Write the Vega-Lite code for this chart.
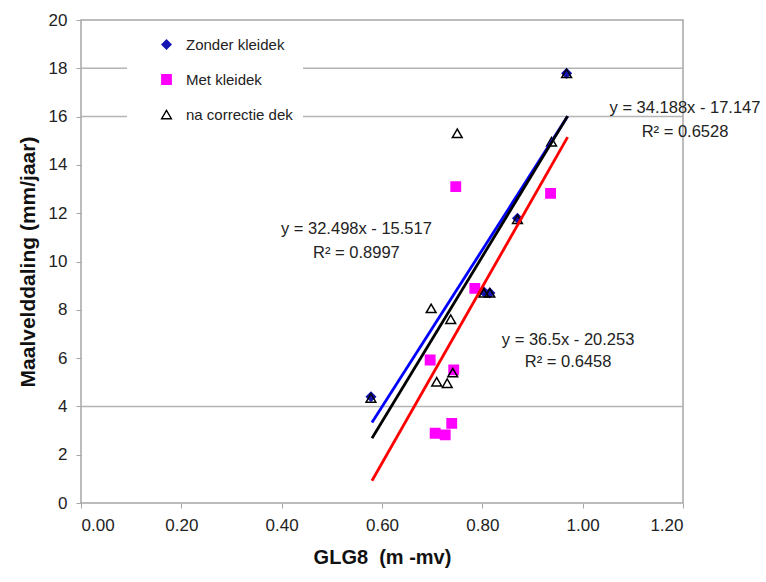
{
  "$schema": "https://vega.github.io/schema/vega-lite/v6.json",
  "width": 602,
  "height": 483,
  "autosize": "none",
  "padding": {"left": 81, "top": 20, "right": 83, "bottom": 79},
  "background": "white",
  "config": {
    "font": "Liberation Sans",
    "view": {"stroke": "#a6a6a6", "strokeWidth": 1.5},
    "axis": {
      "grid": false,
      "domain": false,
      "ticks": true,
      "tickColor": "#a6a6a6",
      "tickSize": 5,
      "labelFontSize": 17,
      "labelColor": "#222222",
      "titleFontSize": 20,
      "titleFontWeight": "bold",
      "titleColor": "#111111"
    },
    "axisX": {"labelPadding": 9, "titlePadding": 14},
    "axisY": {"labelPadding": 9, "titlePadding": 10, "titleFontSize": 21},
    "legend": {
      "orient": "none",
      "legendX": 46,
      "legendY": 7,
      "padding": 10,
      "fillColor": "white",
      "labelFontSize": 15,
      "labelColor": "#222222",
      "rowPadding": 19,
      "symbolOffset": 22,
      "labelOffset": 12,
      "symbolStrokeWidth": 1.4
    }
  },
  "datasets": {
    "grid": [{"y": 4}, {"y": 16}, {"y": 18}],
    "points": [
      {"series": "Met kleidek", "x": 0.747, "y": 13.10},
      {"series": "Met kleidek", "x": 0.936, "y": 12.82},
      {"series": "Met kleidek", "x": 0.785, "y": 8.89},
      {"series": "Met kleidek", "x": 0.696, "y": 5.92},
      {"series": "Met kleidek", "x": 0.743, "y": 5.51},
      {"series": "Met kleidek", "x": 0.706, "y": 2.89},
      {"series": "Met kleidek", "x": 0.726, "y": 2.82},
      {"series": "Met kleidek", "x": 0.739, "y": 3.30},
      {"series": "Zonder kleidek", "x": 0.578, "y": 4.40},
      {"series": "Zonder kleidek", "x": 0.803, "y": 8.75},
      {"series": "Zonder kleidek", "x": 0.815, "y": 8.70},
      {"series": "Zonder kleidek", "x": 0.870, "y": 11.79},
      {"series": "Zonder kleidek", "x": 0.968, "y": 17.79},
      {"series": "na correctie dek", "x": 0.578, "y": 4.35},
      {"series": "na correctie dek", "x": 0.803, "y": 8.70},
      {"series": "na correctie dek", "x": 0.815, "y": 8.70},
      {"series": "na correctie dek", "x": 0.870, "y": 11.75},
      {"series": "na correctie dek", "x": 0.968, "y": 17.79},
      {"series": "na correctie dek", "x": 0.750, "y": 15.31},
      {"series": "na correctie dek", "x": 0.938, "y": 14.96},
      {"series": "na correctie dek", "x": 0.698, "y": 8.06},
      {"series": "na correctie dek", "x": 0.737, "y": 7.61},
      {"series": "na correctie dek", "x": 0.741, "y": 5.40},
      {"series": "na correctie dek", "x": 0.709, "y": 5.02},
      {"series": "na correctie dek", "x": 0.730, "y": 4.96}
    ],
    "trends": [
      {"trend": "Zonder kleidek", "x": 0.58, "y": 3.33},
      {"trend": "Zonder kleidek", "x": 0.97, "y": 16.01},
      {"trend": "na correctie dek", "x": 0.58, "y": 2.68},
      {"trend": "na correctie dek", "x": 0.97, "y": 16.02},
      {"trend": "Met kleidek", "x": 0.58, "y": 0.92},
      {"trend": "Met kleidek", "x": 0.97, "y": 15.15}
    ],
    "labels": [
      {"x": 0.549, "y": 11.35, "text": "y = 32.498x - 15.517"},
      {"x": 0.549, "y": 10.35, "text": "R² = 0.8997"},
      {"x": 1.204, "y": 16.36, "text": "y = 34.188x - 17.147"},
      {"x": 1.204, "y": 15.36, "text": "R² = 0.6528"},
      {"x": 0.971, "y": 6.75, "text": "y = 36.5x - 20.253"},
      {"x": 0.971, "y": 5.84, "text": "R² = 0.6458"}
    ]
  },
  "layer": [
    {
      "data": {"name": "grid"},
      "mark": {"type": "rule", "color": "#b4b4b4", "strokeWidth": 1.5},
      "encoding": {
        "y": {"field": "y", "type": "quantitative", "scale": {"domain": [0, 20], "nice": false}}
      }
    },
    {
      "data": {"name": "points"},
      "mark": {"type": "point", "filled": true, "strokeWidth": 1.5, "opacity": 1},
      "encoding": {
        "x": {
          "field": "x", "type": "quantitative",
          "scale": {"domain": [0, 1.2], "nice": false, "zero": false},
          "axis": {"values": [0, 0.2, 0.4, 0.6, 0.8, 1.0, 1.2], "format": ".2f"},
          "title": "GLG8\u00a0\u00a0(m -mv)"
        },
        "y": {
          "field": "y", "type": "quantitative",
          "scale": {"domain": [0, 20], "nice": false},
          "axis": {"values": [0, 2, 4, 6, 8, 10, 12, 14, 16, 18, 20]},
          "title": "Maalvelddaling (mm/jaar)"
        },
        "shape": {
          "field": "series", "type": "nominal",
          "scale": {"domain": ["Zonder kleidek", "Met kleidek", "na correctie dek"], "range": ["diamond", "square", "triangle-up"]},
          "legend": {"title": null, "encode": {"symbols": {"update": {"size": {"value": 70}}}}}
        },
        "fill": {
          "field": "series", "type": "nominal",
          "scale": {"domain": ["Zonder kleidek", "Met kleidek", "na correctie dek"], "range": ["#1414b4", "#ff00ff", "transparent"]},
          "legend": {"title": null, "encode": {"symbols": {"update": {"size": {"value": 70}}}}}
        },
        "stroke": {
          "field": "series", "type": "nominal",
          "scale": {"domain": ["Zonder kleidek", "Met kleidek", "na correctie dek"], "range": ["#1414b4", "#ff00ff", "#000000"]},
          "legend": {"title": null, "encode": {"symbols": {"update": {"size": {"value": 70}}}}}
        },
        "size": {
          "field": "series", "type": "nominal",
          "scale": {"domain": ["Zonder kleidek", "Met kleidek", "na correctie dek"], "range": [80, 95, 320]},
          "legend": {"title": null, "encode": {"symbols": {"update": {"size": {"value": 70}}}}}
        }
      }
    },
    {
      "data": {"name": "trends"},
      "mark": {"type": "line", "strokeWidth": 2.8},
      "encoding": {
        "x": {"field": "x", "type": "quantitative"},
        "y": {"field": "y", "type": "quantitative"},
        "color": {
          "field": "trend", "type": "nominal",
          "scale": {"domain": ["Zonder kleidek", "na correctie dek", "Met kleidek"], "range": ["#0000ff", "#000000", "#ff0000"]},
          "legend": null
        }
      }
    },
    {
      "data": {"name": "labels"},
      "mark": {"type": "text", "fontSize": 16.5, "color": "#222222", "align": "center", "baseline": "middle"},
      "encoding": {
        "x": {"field": "x", "type": "quantitative"},
        "y": {"field": "y", "type": "quantitative"},
        "text": {"field": "text"}
      }
    }
  ]
}
